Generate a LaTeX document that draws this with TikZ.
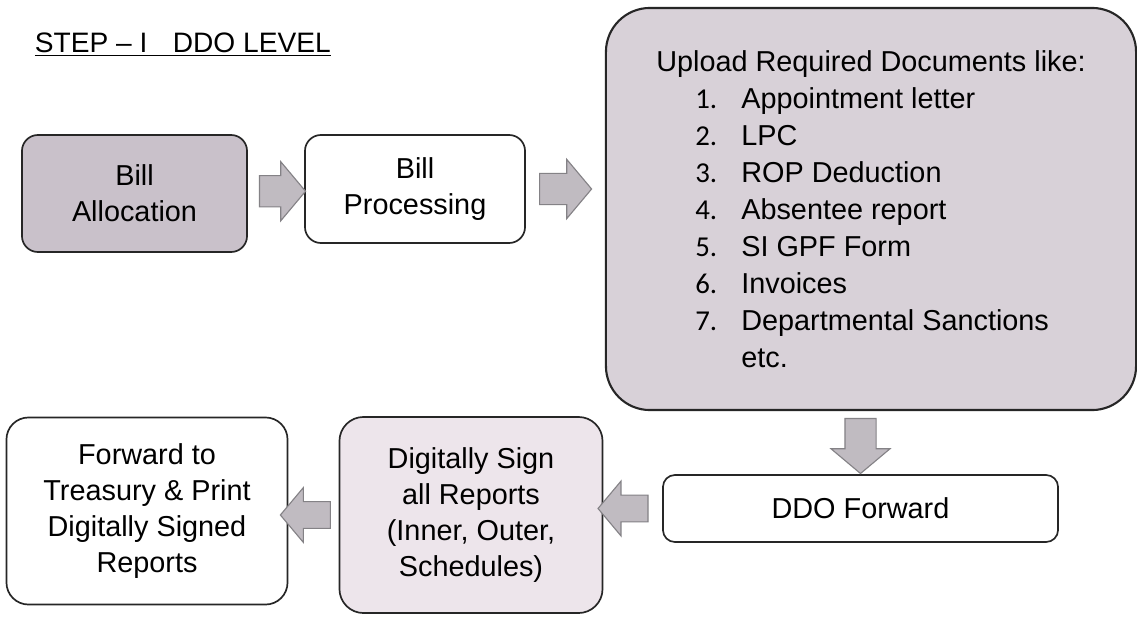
\documentclass[tikz,border=0pt]{standalone}
\usepackage{fontspec}
\setmainfont{Liberation Sans}
\newfontfamily\numfont{Carlito}
\usepackage{tikz}
\usetikzlibrary{calc}
\usetikzlibrary{shapes,arrows}
\definecolor{allocfill}{RGB}{201,193,202}
\definecolor{docsfill}{RGB}{216,209,216}
\definecolor{signfill}{RGB}{237,229,235}
\definecolor{arrowfill}{RGB}{192,187,193}
\definecolor{arrowdraw}{RGB}{132,130,134}

\begin{document}
\begin{tikzpicture}[x = 0.025cm, y = -0.025cm,
    box/.style = {draw = black!85, line width = 1.2pt, rounded corners = 0.4cm, align = center, font = \fontsize{20.5}{25.5}\selectfont},
    flowarr/.style = {single arrow, draw = arrowdraw, fill = arrowfill, line width = 0.8pt, inner xsep = 0pt, inner ysep = 0.375cm, single arrow head extend = 0.35cm, single arrow tip angle = 100, minimum height = 1.25cm}]
    \def \numgap{0.975cm}
    \def \itemgap{1.15cm}

    \fill[white] (0,0) rectangle (1137,617);
    \useasboundingbox (0,0) rectangle (1137,617);

    \node[anchor = base west, font = \fontsize{20}{24}\selectfont] (title) at (30,53) {\underline{STEP -- I\hspace{0.9em}DDO LEVEL}};

    % top row
    \node[box, fill = allocfill, minimum width = 5.625cm, minimum height = 2.925cm] (alloc) at (134.5,193.5) {Bill\\Allocation};
    \node[box, fill = white, minimum width = 5.5cm, minimum height = 2.7cm] (proc) at (415,189) {Bill\\Processing};
    \node[box, fill = docsfill, line width = 1.5pt, rounded corners = 1.1cm, minimum width = 13.25cm, minimum height = 10.05cm, align = left, font = \fontsize{20.5}{26.3}\selectfont] (docs) at (871,209) {Upload Required Documents like:\\
        \hspace*{\numgap}\makebox[\itemgap][l]{\numfont 1.}Appointment letter\\
        \hspace*{\numgap}\makebox[\itemgap][l]{\numfont 2.}LPC\\
        \hspace*{\numgap}\makebox[\itemgap][l]{\numfont 3.}ROP Deduction\\
        \hspace*{\numgap}\makebox[\itemgap][l]{\numfont 4.}Absentee report\\
        \hspace*{\numgap}\makebox[\itemgap][l]{\numfont 5.}SI GPF Form\\
        \hspace*{\numgap}\makebox[\itemgap][l]{\numfont 6.}Invoices\\
        \hspace*{\numgap}\makebox[\itemgap][l]{\numfont 7.}Departmental Sanctions\\
        \hspace*{\numgap}\makebox[\itemgap][l]{}etc.};

    % bottom row
    \node[box, fill = white, rounded corners = 0.3cm, minimum width = 9.875cm, minimum height = 1.675cm] (ddo) at (860.5,508.5) {DDO Forward};
    \node[box, fill = signfill, rounded corners = 0.6cm, minimum width = 6.575cm, minimum height = 4.9cm] (sign) at (471,515) {Digitally Sign\\all Reports\\(Inner, Outer,\\Schedules)};
    \node[box, fill = white, rounded corners = 0.55cm, minimum width = 7.025cm, minimum height = 4.675cm] (fwd) at (147,511) {Forward to\\Treasury \& Print\\Digitally Signed\\Reports};

    % block arrows
    \node[flowarr, minimum height = 1.15cm] (a1) at ($(alloc.east)!0.5!(proc.west)$) {};
    \node[flowarr, minimum height = 1.3cm] (a2) at ($(proc.east)!0.42!(proc.east -| docs.west)$) {};
    \node[flowarr, rotate = -90, minimum height = 1.375cm] (a3) at ($(ddo.north)!0.55!(ddo.north |- docs.south)$) {};
    \node[flowarr, rotate = 180, inner ysep = 0.32cm] (a4) at ($(ddo.west)!0.57!(ddo.west -| sign.east)$) {};
    \node[flowarr, rotate = 180, inner ysep = 0.32cm] (a5) at ($(sign.west)!0.55!(sign.west -| fwd.east)$) {};
\end{tikzpicture}
\end{document}
